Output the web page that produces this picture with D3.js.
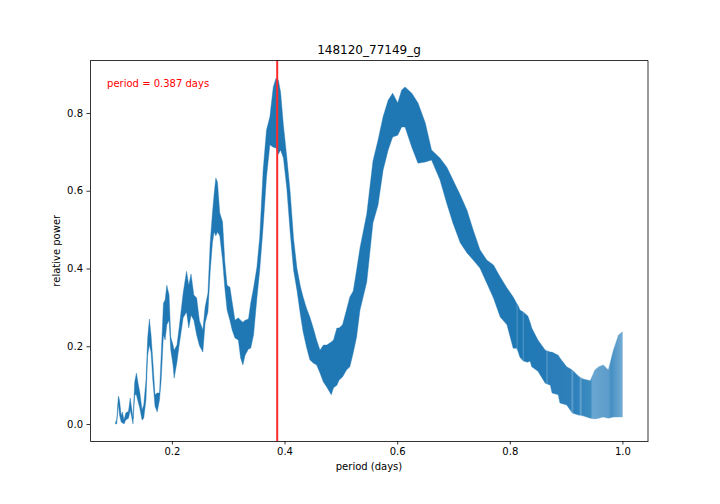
<!DOCTYPE html>
<html>
<head>
<meta charset="utf-8">
<script src="https://cdnjs.cloudflare.com/ajax/libs/d3/7.8.5/d3.min.js"></script>
<style>
body { margin: 0; background: white; }
text { font-family: "DejaVu Sans", sans-serif; }
.axis text { font-size: 10px; fill: black; }
.axis path, .axis line { stroke: black; stroke-width: 0.8px; }
</style>
</head>
<body>
<div id="chart"></div>
<script>
// Values: periodogram envelope
var periods = [0.1,0.102,0.105,0.107,0.11,0.112,0.115,0.118,0.123,0.126,0.129,0.131,0.134,0.137,0.14,0.143,0.147,0.15,0.154,0.157,0.16,0.163,0.166,0.17,0.174,0.178,0.181,0.185,0.188,0.191,0.195,0.198,0.202,0.204,0.209,0.213,0.22,0.226,0.23,0.234,0.239,0.244,0.249,0.255,0.259,0.264,0.268,0.272,0.275,0.278,0.281,0.285,0.29,0.294,0.298,0.303,0.307,0.312,0.318,0.322,0.326,0.33,0.336,0.34,0.345,0.351,0.356,0.362,0.368,0.374,0.38,0.385,0.389,0.393,0.398,0.404,0.41,0.416,0.422,0.428,0.433,0.439,0.445,0.451,0.457,0.463,0.469,0.475,0.483,0.487,0.493,0.497,0.503,0.51,0.516,0.522,0.528,0.534,0.546,0.557,0.566,0.575,0.584,0.592,0.601,0.608,0.614,0.626,0.637,0.65,0.661,0.676,0.688,0.699,0.712,0.724,0.735,0.747,0.759,0.771,0.783,0.795,0.806,0.812,0.815,0.818,0.824,0.832,0.836,0.839,0.85,0.854,0.863,0.872,0.875,0.886,0.889,0.901,0.911,0.922,0.93,0.943,0.951,0.958,0.966,0.975,0.984,0.993,1.0];
var upper = [0.005,0.01,0.072,0.062,0.021,0.031,0.01,0.028,0.033,0.067,0.036,0.015,0.108,0.131,0.105,0.082,0.036,0.049,0.113,0.221,0.27,0.229,0.165,0.075,0.08,0.08,0.177,0.311,0.319,0.357,0.332,0.224,0.203,0.19,0.203,0.249,0.337,0.393,0.357,0.386,0.332,0.324,0.265,0.242,0.301,0.337,0.466,0.543,0.592,0.633,0.622,0.543,0.52,0.417,0.357,0.352,0.314,0.267,0.273,0.267,0.262,0.267,0.27,0.311,0.35,0.404,0.481,0.653,0.756,0.79,0.867,0.89,0.885,0.854,0.769,0.687,0.597,0.478,0.401,0.355,0.327,0.298,0.275,0.247,0.216,0.19,0.203,0.203,0.211,0.216,0.247,0.247,0.255,0.293,0.327,0.342,0.396,0.453,0.54,0.676,0.73,0.79,0.833,0.851,0.826,0.859,0.867,0.851,0.826,0.774,0.705,0.684,0.661,0.628,0.589,0.55,0.499,0.448,0.422,0.409,0.378,0.35,0.327,0.311,0.304,0.293,0.288,0.278,0.262,0.247,0.216,0.208,0.19,0.185,0.185,0.177,0.17,0.147,0.139,0.123,0.116,0.111,0.139,0.147,0.152,0.139,0.19,0.229,0.237];
var lower = [0,0,0.051,0.023,0.005,0.003,0,0.01,0.015,0.036,0.015,0,0.075,0.075,0.057,0.041,0.01,0.015,0.062,0.177,0.203,0.185,0.116,0.046,0.031,0.062,0.113,0.229,0.216,0.255,0.267,0.19,0.152,0.118,0.159,0.203,0.273,0.288,0.247,0.28,0.267,0.229,0.201,0.185,0.26,0.288,0.391,0.466,0.494,0.484,0.494,0.484,0.422,0.35,0.293,0.267,0.242,0.221,0.216,0.17,0.152,0.177,0.193,0.195,0.229,0.324,0.396,0.507,0.635,0.718,0.712,0.71,0.694,0.705,0.684,0.607,0.494,0.396,0.345,0.283,0.237,0.198,0.165,0.157,0.152,0.131,0.108,0.095,0.075,0.093,0.1,0.113,0.121,0.139,0.147,0.183,0.224,0.293,0.365,0.517,0.563,0.653,0.705,0.738,0.743,0.764,0.764,0.712,0.671,0.674,0.679,0.628,0.568,0.517,0.466,0.44,0.422,0.401,0.363,0.324,0.275,0.255,0.195,0.195,0.185,0.172,0.162,0.159,0.162,0.147,0.136,0.126,0.105,0.1,0.08,0.075,0.054,0.049,0.028,0.023,0.021,0.015,0.013,0.015,0.018,0.015,0.018,0.018,0.018];

var xTicks = [0.2, 0.4, 0.6, 0.8, 1.0];
var yTicks = [0.0, 0.2, 0.4, 0.6, 0.8];
var bestPeriod = 0.387;

// Set up chart
var svgWidth = 720;
var svgHeight = 504;
var margin = { top: 60.5, right: 72, bottom: 63, left: 90 };
var width = svgWidth - margin.left - margin.right;
var height = svgHeight - margin.top - margin.bottom;

var svg = d3.select("#chart")
  .append("svg")
  .attr("width", svgWidth)
  .attr("height", svgHeight)
  .style("display", "block");

var chartGroup = svg.append("g")
  .attr("transform", `translate(${margin.left}, ${margin.top})`);

var xScale = d3.scaleLinear().domain([0.0546, 1.0454]).range([0, width]);
var yScale = d3.scaleLinear().domain([-0.0437, 0.935]).range([height, 0]);

// Fade and pale stripes towards the long period end, where the samples spread apart
var fadeStart = 0.8;
var fadeStops = [
  [0.8, "#1f77b4"], [0.811, "#1f77b4"], [0.813, "#4b93c6"], [0.815, "#1f77b4"],
  [0.822, "#1f77b4"], [0.824, "#4b93c6"], [0.826, "#2079b5"], [0.864, "#2379b6"],
  [0.866, "#5a9bcb"], [0.868, "#2a7db8"], [0.908, "#2d80ba"], [0.911, "#5f9fcc"],
  [0.914, "#2d80ba"], [0.923, "#3083bc"], [0.926, "#68a5d0"], [0.929, "#3486bd"],
  [0.94, "#3a8abf"], [0.943, "#3a8abf"], [0.947, "#6aa6d0"], [0.975, "#5d9dcb"],
  [0.98, "#468fc3"], [1.0, "#74acd3"]
];
var fade = svg.append("defs").append("linearGradient")
  .attr("id", "fade")
  .attr("gradientUnits", "userSpaceOnUse")
  .attr("x1", xScale(fadeStart)).attr("x2", xScale(1.0))
  .attr("y1", 0).attr("y2", 0);
fadeStops.forEach(s => {
  fade.append("stop")
    .attr("offset", (s[0] - fadeStart) / (1.0 - fadeStart))
    .attr("stop-color", s[1]);
});

var area = d3.area()
  .x((d, i) => xScale(periods[i]))
  .y0((d, i) => yScale(lower[i]))
  .y1((d, i) => yScale(upper[i]));

chartGroup.append("path")
  .datum(periods)
  .attr("d", area)
  .attr("fill", "url(#fade)")
  .attr("stroke", "url(#fade)")
  .attr("stroke-width", 0.4);

// Best period marker
chartGroup.append("line")
  .attr("x1", xScale(bestPeriod)).attr("x2", xScale(bestPeriod))
  .attr("y1", 0).attr("y2", height)
  .attr("stroke", "#ff2a2a")
  .attr("stroke-width", 2);

chartGroup.append("text")
  .attr("x", xScale(0.085))
  .attr("y", yScale(0.875))
  .attr("dy", "0.32em")
  .attr("fill", "red")
  .style("font-size", "10px")
  .text("period = 0.387 days");

// Add axes
chartGroup.append("g")
  .attr("class", "axis")
  .attr("transform", `translate(0, ${height})`)
  .call(d3.axisBottom(xScale).tickValues(xTicks).tickFormat(d3.format(".1f")).tickSize(3.5).tickPadding(3.5).tickSizeOuter(0));

chartGroup.append("g")
  .attr("class", "axis")
  .call(d3.axisLeft(yScale).tickValues(yTicks).tickFormat(d3.format(".1f")).tickSize(3.5).tickPadding(3.5).tickSizeOuter(0));

// Top and right spines
chartGroup.append("line").attr("x1", 0).attr("x2", width).attr("y1", 0).attr("y2", 0)
  .attr("stroke", "black").attr("stroke-width", 0.8);
chartGroup.append("line").attr("x1", width).attr("x2", width).attr("y1", 0).attr("y2", height)
  .attr("stroke", "black").attr("stroke-width", 0.8);

// Labels
chartGroup.append("text")
  .attr("x", width / 2)
  .attr("y", -6.5)
  .attr("text-anchor", "middle")
  .style("font-size", "12px")
  .text("148120_77149_g");

chartGroup.append("text")
  .attr("x", width / 2)
  .attr("y", height + 29)
  .attr("text-anchor", "middle")
  .style("font-size", "10px")
  .text("period (days)");

chartGroup.append("text")
  .attr("transform", "rotate(-90)")
  .attr("x", -height / 2)
  .attr("y", -30)
  .attr("text-anchor", "middle")
  .style("font-size", "10px")
  .text("relative power");
</script>
</body>
</html>
